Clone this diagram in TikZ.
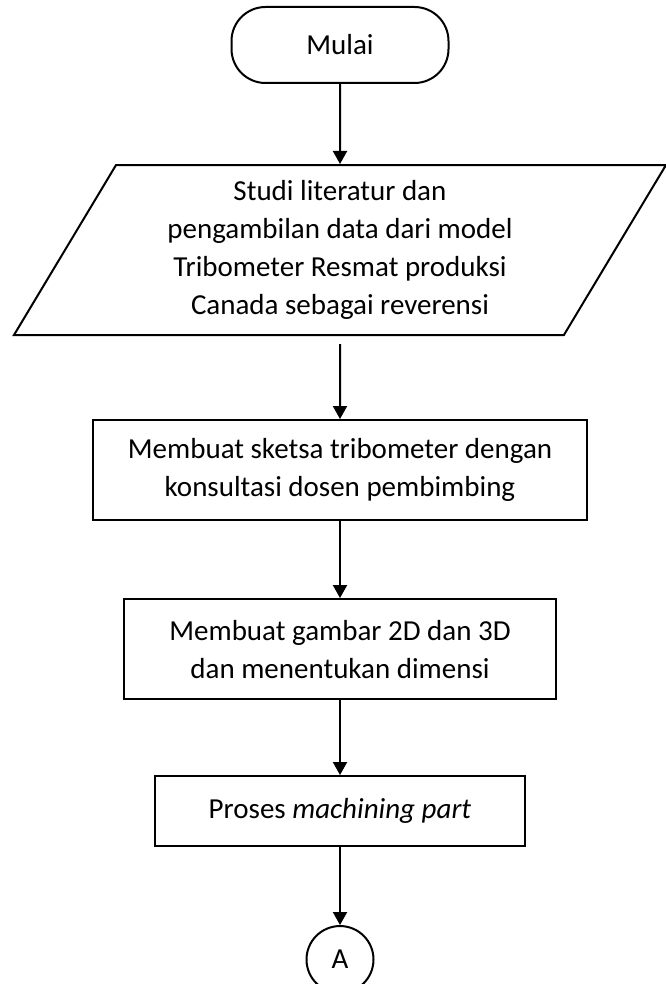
\documentclass[tikz,border=0pt]{standalone}
\usepackage{fontspec}
\setmainfont{Carlito}
\usetikzlibrary{shapes.geometric, positioning, arrows.meta}
\tikzset{
	->,
	>={Triangle[length=13pt,width=14pt]},
	every node/.style={font=\fontsize{29}{38}\selectfont, align=center},
	terminal/.style={draw, rectangle, rounded corners=34pt, minimum width=217pt, minimum height=76pt},
	io/.style={draw, trapezium, trapezium left angle=55, trapezium right angle=125,
		trapezium stretches body, minimum width=652pt, minimum height=170pt},
	process/.style={draw, rectangle, minimum height=100pt},
	connector/.style={draw, circle, minimum size=67pt, inner sep=0pt}}

\begin{document}
\begin{tikzpicture}[x=1pt, y=-1pt, line width=2pt]
		\useasboundingbox (0,0) rectangle (665,984);
		
		\node[terminal] (mulai) at (340,45) {Mulai};
		\node[io, below=80pt of mulai] (studi) {Studi literatur dan\\pengambilan data dari model\\Tribometer Resmat produksi\\Canada sebagai reverensi};
		\node[process, minimum width=494pt, below=83pt of studi] (sketsa) {Membuat sketsa tribometer dengan\\konsultasi dosen pembimbing};
		\node[process, minimum width=432pt, below=77pt of sketsa] (gambar) {Membuat gambar 2D dan 3D\\dan menentukan dimensi};
		\node[process, minimum width=370pt, minimum height=70pt, below=75pt of gambar] (proses) {Proses \textit{machining part}};
		\node[connector, below=78pt of proses] (a) {A};
		
		\draw
		(mulai) edge (studi)
		(studi) edge[shorten <=8pt] (sketsa)
		(sketsa) edge (gambar)
		(gambar) edge (proses)
		(proses) edge (a)
		;
	\end{tikzpicture}
\end{document}
